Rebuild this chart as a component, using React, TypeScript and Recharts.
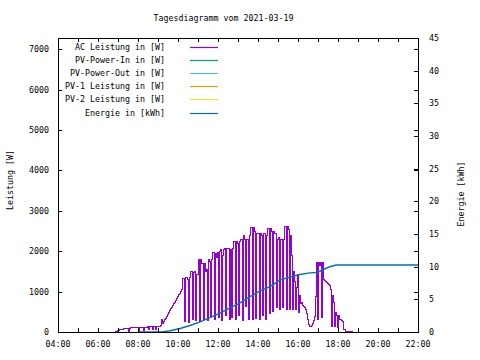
import React from 'react';
import { ComposedChart, Line, XAxis, YAxis } from 'recharts';

// ---------- data ----------
const title = 'Tagesdiagramm vom 2021-03-19';
const leftLabel = 'Leistung [W]';
const rightLabel = 'Energie [kWh]';

const xTicks = [4, 5, 6, 7, 8, 9, 10, 11, 12, 13, 14, 15, 16, 17, 18, 19, 20, 21, 22];
const leftTicks = [0, 1000, 2000, 3000, 4000, 5000, 6000, 7000];
const rightTicks = [0, 5, 10, 15, 20, 25, 30, 35, 40, 45];

const seriesNames = [
  'AC Leistung in [W]',
  'PV-Power-In in [W]',
  'PV-Power-Out in [W]',
  'PV-1 Leistung in [W]',
  'PV-2 Leistung in [W]',
  'Energie in [kWh]',
];
const seriesColors = ['#9400d3', '#009e73', '#56b4e9', '#e69f00', '#f0e442', '#0072b2'];

// AC power sampled every 3 minutes starting at 06:51
const acStart = '06:51';
const acStepMinutes = 3;
const acPower = [
  20, 20, 40, 40, 60, 60, 60, 60, 80, 80,
  80, 80, 80, 20, 80, 100, 100, 100, 100, 100,
  100, 100, 100, 20, 100, 100, 100, 110, 40, 110,
  110, 120, 130, 60, 130, 130, 130, 60, 130, 130,
  60, 130, 140, 140, 130, 150, 310, 220, 260, 300,
  340, 390, 440, 490, 530, 570, 610, 650, 700, 740,
  790, 840, 880, 920, 960, 1000, 1050,
  1330, 1330, 250, 1350, 1350, 1300, 230, 1340, 1500, 1500,
  300, 1480, 1500, 280, 1420, 1420, 1790, 250, 1790, 1700,
  1700, 300, 1700, 1500, 1550, 290, 1790, 1750, 390, 1790,
  1980, 1980, 320, 1950, 1850, 1980, 360, 2000, 2040, 290,
  1900, 2040, 2080, 400, 2080, 2080, 2080, 300, 2050, 360,
  2080, 2240, 2240, 310, 2240, 2200, 400, 2240, 2280, 2280,
  280, 2400, 2300, 640, 2280, 2280, 300, 2400, 2580, 2580,
  300, 2580, 2500, 330, 2450, 2450, 2450, 320, 2450, 2400,
  400, 2450, 2450, 300, 2400, 2570, 2570, 450, 2570, 2500,
  500, 2500, 2450, 2450, 600, 2300, 2350, 550, 2300, 2300,
  600, 2300, 2610, 2610, 560, 2610,
  2550, 560, 2400, 1900, 560, 1500, 1250, 560, 1100, 1420, 480, 900, 700, 720,
  650, 620, 600, 560, 450, 300, 180, 140, 140, 150, 200, 280, 390,
  880, 1710, 300, 1710, 1650, 1710, 350, 1710, 1300, 1280,
  1250, 1220, 1200, 1180, 1150, 1050, 140, 900, 720, 140,
  480, 420, 100, 400, 310, 300, 280, 260, 60, 60,
  20, 20, 20, 20, 20, 20, 20, 20, 20,
];

const energyTimes = [
  '08:00', '09:12', '09:36', '10:06', '10:36', '11:06', '11:36', '12:06', '12:36',
  '13:06', '13:36', '14:06', '14:36', '15:06', '15:36', '16:06', '16:36', '16:54',
  '17:06', '17:24', '17:36', '17:54', '22:00',
];
const energyKWh = [
  0, 0, 0.2, 0.55, 1.0, 1.55, 2.2, 2.9, 3.7,
  4.45, 5.4, 6.3, 6.95, 7.95, 8.4, 8.8, 9.05, 9.1,
  9.3, 9.75, 10.0, 10.25, 10.25,
];

const pvPowerIn: { t: number; v: number }[] = [];
const pvPowerOut: { t: number; v: number }[] = [];
const pv1Power: { t: number; v: number }[] = [];
const pv2Power: { t: number; v: number }[] = [];

// ---------- helpers ----------
const toHours = (s: string) => {
  const [h, m] = s.split(':').map(Number);
  return h + m / 60;
};
const acData = acPower.map((w, i) => ({ t: toHours(acStart) + (i * acStepMinutes) / 60, w }));
const energyData = energyTimes.map((s, i) => ({ t: toHours(s), e: energyKWh[i] }));

const FONT = 'DejaVu Sans Mono';
const FS = 8.3;
const W = 480;
const H = 360;
const PX0 = 58;
const PX1 = 418;
const PY0 = 38;
const PY1 = 332;
const TICK = 4;

const XTick = (p: any) => {
  const { x, payload } = p;
  const v = payload.value as number;
  const cx = Math.round(x) + 0.5;
  return (
    <g>
      <line x1={cx} x2={cx} y1={PY1} y2={PY1 - TICK} stroke="#000" strokeWidth={1} />
      <line x1={cx} x2={cx} y1={PY0} y2={PY0 + TICK} stroke="#000" strokeWidth={1} />
      {v % 2 === 0 && (
        <text x={x} y={PY1 + 15} textAnchor="middle" fontFamily={FONT} fontSize={FS} fill="#000">
          {`${String(v).padStart(2, '0')}:00`}
        </text>
      )}
    </g>
  );
};

const LeftTick = (p: any) => {
  const { x, y, payload } = p;
  const cy = Math.round(y) + 0.5;
  return (
    <g>
      <line x1={PX0} x2={PX0 + TICK} y1={cy} y2={cy} stroke="#000" strokeWidth={1} />
      <line x1={PX1} x2={PX1 - TICK} y1={cy} y2={cy} stroke="#000" strokeWidth={1} />
      <text x={x} y={y + 3} textAnchor="end" fontFamily={FONT} fontSize={FS} fill="#000">
        {payload.value}
      </text>
    </g>
  );
};

const RightTick = (p: any) => {
  const { x, y, payload } = p;
  const cy = Math.round(y) + 0.5;
  return (
    <g>
      <line x1={PX1} x2={PX1 - TICK} y1={cy} y2={cy} stroke="#000" strokeWidth={1} />
      <text x={x} y={y + 3} textAnchor="start" fontFamily={FONT} fontSize={FS} fill="#000">
        {payload.value}
      </text>
    </g>
  );
};

const legendRowY = (i: number) => 47 + i * 13.1;

export default function App() {
  return (
    <div style={{ position: 'absolute', left: 0, top: 0, width: W, height: H, background: '#fff' }}>
      <ComposedChart width={W} height={H} margin={{ top: PY0, right: 0, bottom: 0, left: 0 }}>
        <XAxis
          dataKey="t"
          type="number"
          domain={[4, 22]}
          ticks={xTicks}
          interval={0}
          height={H - PY1}
          tickSize={0}
          tickMargin={0}
          axisLine={false}
          tickLine={false}
          allowDataOverflow
          tick={(p: any) => <XTick {...p} />}
        />
        <YAxis
          yAxisId="left"
          orientation="left"
          type="number"
          width={PX0}
          domain={[0, 7280]}
          ticks={leftTicks}
          interval={0}
          tickSize={0}
          tickMargin={9}
          axisLine={false}
          tickLine={false}
          allowDataOverflow
          tick={(p: any) => <LeftTick {...p} />}
        />
        <YAxis
          yAxisId="right"
          orientation="right"
          type="number"
          width={W - PX1}
          domain={[0, 45]}
          ticks={rightTicks}
          interval={0}
          tickSize={0}
          tickMargin={11}
          axisLine={false}
          tickLine={false}
          allowDataOverflow
          tick={(p: any) => <RightTick {...p} />}
        />
        <Line
          yAxisId="left"
          data={acData}
          dataKey="w"
          name={seriesNames[0]}
          type="stepAfter"
          stroke={seriesColors[0]}
          strokeWidth={1}
          shapeRendering="crispEdges"
          dot={false}
          isAnimationActive={false}
        />
        <Line yAxisId="left" data={pvPowerIn} dataKey="v" name={seriesNames[1]} stroke={seriesColors[1]} dot={false} isAnimationActive={false} />
        <Line yAxisId="left" data={pvPowerOut} dataKey="v" name={seriesNames[2]} stroke={seriesColors[2]} dot={false} isAnimationActive={false} />
        <Line yAxisId="left" data={pv1Power} dataKey="v" name={seriesNames[3]} stroke={seriesColors[3]} dot={false} isAnimationActive={false} />
        <Line yAxisId="left" data={pv2Power} dataKey="v" name={seriesNames[4]} stroke={seriesColors[4]} dot={false} isAnimationActive={false} />
        <Line
          yAxisId="right"
          data={energyData}
          dataKey="e"
          name={seriesNames[5]}
          type="linear"
          stroke={seriesColors[5]}
          strokeWidth={1.5}
          dot={false}
          isAnimationActive={false}
        />
      </ComposedChart>
      <svg
        width={W}
        height={H}
        style={{ position: 'absolute', left: 0, top: 0, pointerEvents: 'none' }}
      >
        <rect x={PX0 + 0.5} y={PY0 + 0.5} width={PX1 - PX0} height={PY1 - PY0} fill="none" stroke="#000" strokeWidth={1} />
        <text x={223.5} y={21} textAnchor="middle" fontFamily={FONT} fontSize={FS} fill="#000">
          {title}
        </text>
        <text
          x={10}
          y={180}
          transform="rotate(-90 10 180)"
          textAnchor="middle"
          dominantBaseline="central"
          fontFamily={FONT}
          fontSize={FS}
          fill="#000"
        >
          {leftLabel}
        </text>
        <text
          x={461}
          y={194}
          transform="rotate(-90 461 194)"
          textAnchor="middle"
          dominantBaseline="central"
          fontFamily={FONT}
          fontSize={FS}
          fill="#000"
        >
          {rightLabel}
        </text>
        {seriesNames.map((n, i) => (
          <g key={n}>
            <text x={165} y={legendRowY(i) + 3} textAnchor="end" fontFamily={FONT} fontSize={FS} fill="#000">
              {n}
            </text>
            <line
              x1={190}
              x2={218}
              y1={Math.round(legendRowY(i)) + 0.5}
              y2={Math.round(legendRowY(i)) + 0.5}
              stroke={seriesColors[i]}
              strokeWidth={1.2}
            />
          </g>
        ))}
      </svg>
    </div>
  );
}
